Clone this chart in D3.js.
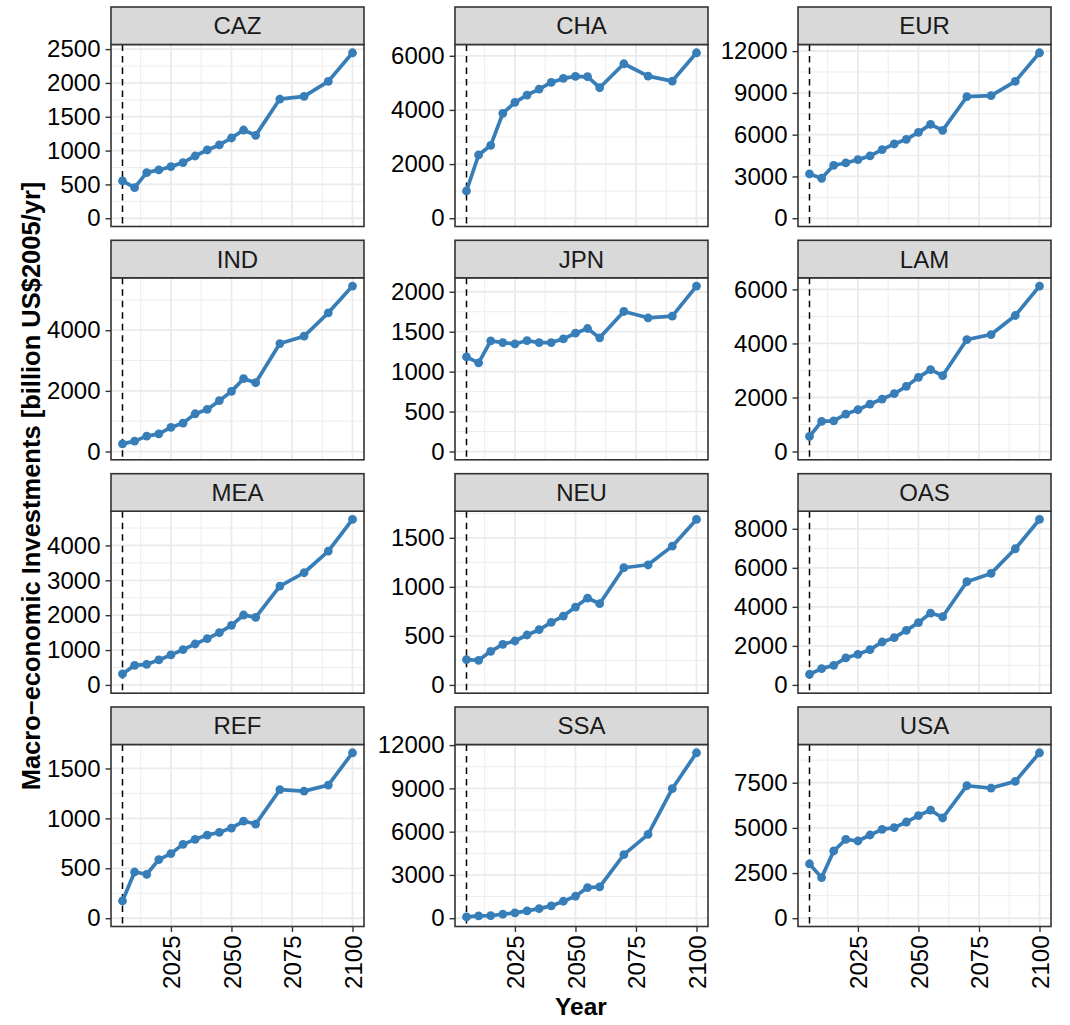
<!DOCTYPE html>
<html><head><meta charset="utf-8">
<script src="https://cdn.jsdelivr.net/npm/d3@7"></script>
<style>body{margin:0;background:#fff;} svg{display:block;}</style>
</head><body>
<script>
const years = [2005,2010,2015,2020,2025,2030,2035,2040,2045,2050,2055,2060,2070,2080,2090,2100];
const regions = ["CAZ","CHA","EUR","IND","JPN","LAM","MEA","NEU","OAS","REF","SSA","USA"];

const valuesCAZ = [551,453,674,714,763,822,920,1009,1083,1186,1304,1225,1762,1801,2023,2446];
const valuesCHA = [1008,2336,2693,3873,4279,4549,4771,5016,5164,5238,5226,4820,5705,5250,5066,6111];
const valuesEUR = [3179,2869,3801,3968,4207,4470,4924,5331,5665,6167,6741,6311,8725,8797,9825,11880];
const valuesIND = [253,342,507,584,793,937,1245,1388,1675,1983,2402,2270,3559,3802,4573,5455];
const valuesJPN = [1184,1109,1385,1364,1347,1389,1364,1364,1410,1481,1540,1423,1753,1674,1695,2071];
const valuesLAM = [557,1113,1138,1386,1546,1757,1942,2140,2412,2746,3031,2808,4144,4330,5035,6124];
const valuesMEA = [315,563,592,716,859,1012,1174,1327,1499,1709,2005,1938,2835,3217,3838,4745];
const valuesNEU = [258,251,343,414,448,509,563,638,702,794,886,828,1195,1225,1415,1687];
const valuesOAS = [546,836,1006,1382,1569,1808,2200,2422,2797,3190,3684,3497,5288,5714,6977,8478];
const valuesREF = [173,463,440,587,647,740,790,833,860,903,973,943,1287,1273,1333,1657];
const valuesSSA = [92,162,185,277,369,508,669,854,1177,1523,2123,2169,4408,5815,8977,11469];
const valuesUSA = [3004,2248,3722,4367,4275,4607,4920,5012,5325,5676,5989,5547,7334,7205,7574,9158];

const ticksCAZ = [0,500,1000,1500,2000,2500];
const ticksCHA = [0,2000,4000,6000];
const ticksEUR = [0,3000,6000,9000,12000];
const ticksIND = [0,2000,4000];
const ticksJPN = [0,500,1000,1500,2000];
const ticksLAM = [0,2000,4000,6000];
const ticksMEA = [0,1000,2000,3000,4000];
const ticksNEU = [0,500,1000,1500];
const ticksOAS = [0,2000,4000,6000,8000];
const ticksREF = [0,500,1000,1500];
const ticksSSA = [0,3000,6000,9000,12000];
const ticksUSA = [0,2500,5000,7500];

const xTicks = [2025,2050,2075,2100];
const refYear = 2005;
const yTitle = "Macro\u2212economic Investments [billion US$2005/yr]";
const xTitle = "Year";

const seriesByRegion = {CAZ:valuesCAZ,CHA:valuesCHA,EUR:valuesEUR,IND:valuesIND,JPN:valuesJPN,LAM:valuesLAM,
  MEA:valuesMEA,NEU:valuesNEU,OAS:valuesOAS,REF:valuesREF,SSA:valuesSSA,USA:valuesUSA};
const ticksByRegion = {CAZ:ticksCAZ,CHA:ticksCHA,EUR:ticksEUR,IND:ticksIND,JPN:ticksJPN,LAM:ticksLAM,
  MEA:ticksMEA,NEU:ticksNEU,OAS:ticksOAS,REF:ticksREF,SSA:ticksSSA,USA:ticksUSA};

// layout
const W = 1070, H = 1025;
const colX = [111, 455, 798], panelW = 253;
const rowY = [7, 240.3, 473.7, 707], stripH = 37.5, panelH = 182;
const FONT = "'Liberation Sans', Arial, Helvetica, sans-serif";
const lineColor = "#377EB8";
const gridColor = "#EBEBEB";
const borderColor = "#333333";

const svg = d3.select("body").append("svg").attr("width", W).attr("height", H)
  .style("font-family", FONT);

regions.forEach((reg, i) => {
  const col = i % 3, row = Math.floor(i / 3);
  const x0 = colX[col], s0 = rowY[row], p0 = s0 + stripH;
  const vals = seriesByRegion[reg];
  const ticks = ticksByRegion[reg];
  const ymax = d3.max(vals);
  const x = d3.scaleLinear().domain([2005 - 0.05*95, 2100 + 0.05*95]).range([x0, x0 + panelW]);
  const y = d3.scaleLinear().domain([-0.05*ymax, ymax*1.05]).range([p0 + panelH, p0]);
  const g = svg.append("g");

  g.append("rect").attr("x", x0).attr("y", p0).attr("width", panelW).attr("height", panelH).attr("fill", "#fff");

  // minor grid
  const step = ticks[1] - ticks[0];
  const yMinor = [];
  ticks.forEach(t => yMinor.push(t + step/2));
  yMinor.push(ticks[0] - step/2);
  const [yd0, yd1] = y.domain();
  const xMinor = [2012.5, 2037.5, 2062.5, 2087.5];
  g.selectAll(".ymin").data(yMinor.filter(v => v >= yd0 && v <= yd1)).enter().append("line")
    .attr("x1", x0).attr("x2", x0 + panelW).attr("y1", d => y(d)).attr("y2", d => y(d))
    .attr("stroke", gridColor).attr("stroke-width", 0.9);
  g.selectAll(".xmin").data(xMinor).enter().append("line")
    .attr("y1", p0).attr("y2", p0 + panelH).attr("x1", d => x(d)).attr("x2", d => x(d))
    .attr("stroke", gridColor).attr("stroke-width", 0.9);
  // major grid
  g.selectAll(".ymaj").data(ticks).enter().append("line")
    .attr("x1", x0).attr("x2", x0 + panelW).attr("y1", d => y(d)).attr("y2", d => y(d))
    .attr("stroke", gridColor).attr("stroke-width", 1.8);
  g.selectAll(".xmaj").data(xTicks).enter().append("line")
    .attr("y1", p0).attr("y2", p0 + panelH).attr("x1", d => x(d)).attr("x2", d => x(d))
    .attr("stroke", gridColor).attr("stroke-width", 1.8);

  // reference dashed line
  g.append("line").attr("x1", x(refYear)).attr("x2", x(refYear)).attr("y1", p0).attr("y2", p0 + panelH)
    .attr("stroke", "#000").attr("stroke-width", 1.5).attr("stroke-dasharray", "6.5,5");

  // series line + points
  const pts = years.map((yr, k) => [yr, vals[k]]);
  g.append("path").datum(pts)
    .attr("d", d3.line().x(d => x(d[0])).y(d => y(d[1])))
    .attr("fill", "none").attr("stroke", lineColor).attr("stroke-width", 3.7).attr("stroke-linejoin", "round");
  g.selectAll(".pt").data(pts).enter().append("circle")
    .attr("cx", d => x(d[0])).attr("cy", d => y(d[1])).attr("r", 4.4).attr("fill", lineColor);

  // panel border
  g.append("rect").attr("x", x0).attr("y", p0).attr("width", panelW).attr("height", panelH)
    .attr("fill", "none").attr("stroke", borderColor).attr("stroke-width", 1.6);

  // strip
  g.append("rect").attr("x", x0).attr("y", s0).attr("width", panelW).attr("height", stripH)
    .attr("fill", "#D9D9D9").attr("stroke", borderColor).attr("stroke-width", 1.6);
  g.append("text").attr("x", x0 + panelW/2).attr("y", s0 + stripH/2).attr("dy", "0.36em")
    .attr("text-anchor", "middle").attr("font-size", 24).attr("fill", "#1A1A1A").text(reg);

  // y axis
  const ya = g.append("g").attr("transform", `translate(${x0},0)`)
    .call(d3.axisLeft(y).tickValues(ticks).tickSize(5.5).tickPadding(5).tickFormat(d3.format("d")));
  ya.select(".domain").remove();
  ya.selectAll(".tick line").attr("stroke", borderColor).attr("stroke-width", 1.4);
  ya.selectAll(".tick text").attr("font-size", 24).attr("font-family", FONT).attr("fill", "#000");

  // x axis on bottom row
  if (row === 3) {
    const xa = g.append("g").attr("transform", `translate(0,${p0 + panelH})`)
      .call(d3.axisBottom(x).tickValues(xTicks).tickSize(5.5).tickFormat(d3.format("d")));
    xa.select(".domain").remove();
    xa.selectAll(".tick line").attr("stroke", borderColor).attr("stroke-width", 1.4);
    xa.selectAll(".tick text").attr("font-size", 24).attr("font-family", FONT).attr("fill", "#000")
      .attr("transform", "rotate(-90)").attr("x", -9).attr("y", 0).attr("dy", "0.36em")
      .attr("text-anchor", "end");
  }
});

// axis titles
svg.append("text").attr("transform", "translate(40,486) rotate(-90)")
  .attr("text-anchor", "middle").attr("font-size", 25.5).attr("font-weight", "bold").attr("fill", "#000")
  .text(yTitle);
svg.append("text").attr("x", 581).attr("y", 1015).attr("text-anchor", "middle")
  .attr("font-size", 24.5).attr("font-weight", "bold").attr("fill", "#000").text(xTitle);
</script>
</body></html>
